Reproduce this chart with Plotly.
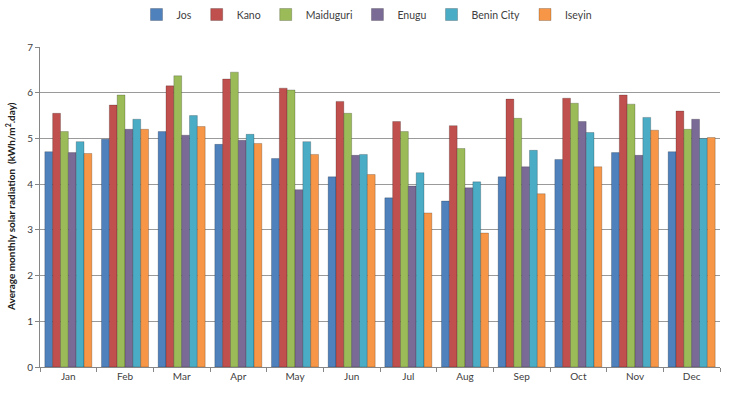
import plotly.graph_objects as go

months = ["Jan", "Feb", "Mar", "Apr", "May", "Jun", "Jul", "Aug", "Sep", "Oct", "Nov", "Dec"]
jos = [4.71, 4.98, 5.15, 4.87, 4.56, 4.16, 3.70, 3.63, 4.16, 4.54, 4.69, 4.71]
kano = [5.55, 5.73, 6.15, 6.30, 6.10, 5.81, 5.37, 5.28, 5.86, 5.88, 5.95, 5.60]
maiduguri = [5.15, 5.95, 6.37, 6.45, 6.06, 5.55, 5.15, 4.78, 5.44, 5.77, 5.75, 5.20]
enugu = [4.69, 5.20, 5.07, 4.96, 3.88, 4.63, 3.96, 3.92, 4.38, 5.37, 4.63, 5.42]
benin = [4.93, 5.42, 5.50, 5.09, 4.93, 4.65, 4.25, 4.05, 4.74, 5.13, 5.46, 5.00]
iseyin = [4.67, 5.20, 5.26, 4.89, 4.65, 4.21, 3.37, 2.93, 3.79, 4.38, 5.18, 5.02]

series = [
    ("Jos", jos, "#4F81BD"),
    ("Kano", kano, "#C0504D"),
    ("Maiduguri", maiduguri, "#9BBB59"),
    ("Enugu", enugu, "#7A6A96"),
    ("Benin City", benin, "#4BACC6"),
    ("Iseyin", iseyin, "#F79646"),
]

fig = go.Figure()
for name, vals, col in series:
    fig.add_trace(go.Bar(
        x=months, y=vals, name=name,
        marker=dict(color=col, line=dict(color="rgba(0,0,0,0.35)", width=0.6)),
    ))

fig.update_layout(
    width=734, height=395,
    margin=dict(l=40, r=14, t=47, b=28, autoexpand=False),
    paper_bgcolor="white", plot_bgcolor="white",
    font=dict(family="Lato, Open Sans, sans-serif", size=10, color="#404040"),
    barmode="group", bargap=0.17, bargroupgap=0,
    legend=dict(orientation="h", x=0.5, xanchor="center", xref="container",
                y=1.0, yanchor="top", yref="container",
                font=dict(size=10.5, color="#404040"),
                itemwidth=30, tracegroupgap=0),
    xaxis=dict(showline=True, linecolor="#868686", ticks="outside", tickcolor="#868686",
               ticklen=4, tickson="boundaries", tickfont=dict(size=10), automargin=False),
    yaxis=dict(range=[0, 7], dtick=1, showgrid=True, gridcolor="#9a9a9a", gridwidth=1,
               showline=True, linecolor="#868686", ticks="outside", tickcolor="#868686",
               ticklen=4, zeroline=False, tickfont=dict(size=10), automargin=False),
    annotations=[dict(
        text="<b>Average monthly solar radiation  (kWh/m<sup>2</sup>.day)</b>",
        xref="paper", yref="paper", x=0, y=0.5, xshift=-30, xanchor="center", yanchor="middle",
        textangle=-90, showarrow=False, font=dict(size=10, color="#202020"))],
)

fig.write_html("out.html", config={"displayModeBar": False},
               post_script="document.body.style.margin='0';document.body.style.overflow='hidden';")
